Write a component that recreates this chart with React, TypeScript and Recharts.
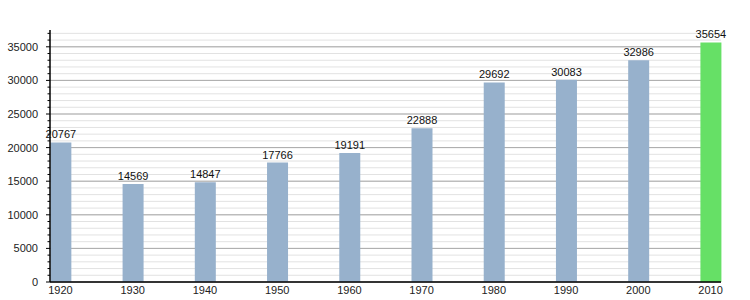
import { BarChart, Bar, XAxis, YAxis, CartesianGrid, LabelList, Cell } from "recharts";

const YEARS = [1920, 1930, 1940, 1950, 1960, 1970, 1980, 1990, 2000, 2010];
const POPULATION = [20767, 14569, 14847, 17766, 19191, 22888, 29692, 30083, 32986, 35654];
const HIGHLIGHT_YEAR = 2010;

const MAJOR_TICKS = [0, 5000, 10000, 15000, 20000, 25000, 30000, 35000];
const MINOR_TICKS = [
  0, 1000, 2000, 3000, 4000, 5000, 6000, 7000, 8000, 9000, 10000, 11000, 12000,
  13000, 14000, 15000, 16000, 17000, 18000, 19000, 20000, 21000, 22000, 23000,
  24000, 25000, 26000, 27000, 28000, 29000, 30000, 31000, 32000, 33000, 34000,
  35000, 36000, 37000,
];

const BAR_COLOR = "#97b1cc";
const HIGHLIGHT_COLOR = "#66e066";
const FONT = '"Liberation Sans", Arial, sans-serif';

const data = YEARS.map((year, i) => ({ year, population: POPULATION[i] }));

// ticks on the y axis: every 1000, labelled every 5000
function YTick(props: any) {
  const { x, y, payload } = props;
  const major = payload.value % 5000 === 0;
  return (
    <g>
      <line x1={x - (major ? 4 : 2.5)} x2={x} y1={y} y2={y} stroke="#000" strokeWidth={1} />
      {major && (
        <text x={x - 12} y={y} dy={4} textAnchor="end" fontSize={11} fontFamily={FONT} fill="#222">
          {payload.value}
        </text>
      )}
    </g>
  );
}

export default function App() {
  return (
    <div style={{ position: "absolute", left: 0, top: 0, background: "#fff" }}>
      <BarChart
        width={750}
        height={300}
        data={data}
        margin={{ top: 30, right: 29, left: 0, bottom: 0 }}
      >
        <CartesianGrid vertical={false} horizontalValues={MINOR_TICKS} stroke="#e2e2e2" />
        <CartesianGrid vertical={false} horizontalValues={MAJOR_TICKS} stroke="#a9a9a9" />
        <XAxis
          dataKey="year"
          type="number"
          domain={[YEARS[0] - 1.45, YEARS[YEARS.length - 1] + 1.45]}
          ticks={YEARS}
          interval={0}
          height={18}
          tickLine={false}
          tickSize={2}
          axisLine={{ stroke: "#000", strokeWidth: 1.5 }}
          tick={{ fontSize: 11, fontFamily: FONT, fill: "#222" }}
        />
        <YAxis
          width={50}
          domain={[0, 37500]}
          ticks={MINOR_TICKS}
          interval={0}
          tickSize={0}
          tickMargin={0}
          tickLine={false}
          axisLine={{ stroke: "#000", strokeWidth: 1.5 }}
          tick={<YTick />}
        />
        <Bar dataKey="population" barSize={21} isAnimationActive={false}>
          {data.map((d) => (
            <Cell key={d.year} fill={d.year === HIGHLIGHT_YEAR ? HIGHLIGHT_COLOR : BAR_COLOR} />
          ))}
          <LabelList
            dataKey="population"
            position="top"
            offset={4}
            fontSize={11}
            fontFamily={FONT}
            fill="#111"
          />
        </Bar>
      </BarChart>
    </div>
  );
}
